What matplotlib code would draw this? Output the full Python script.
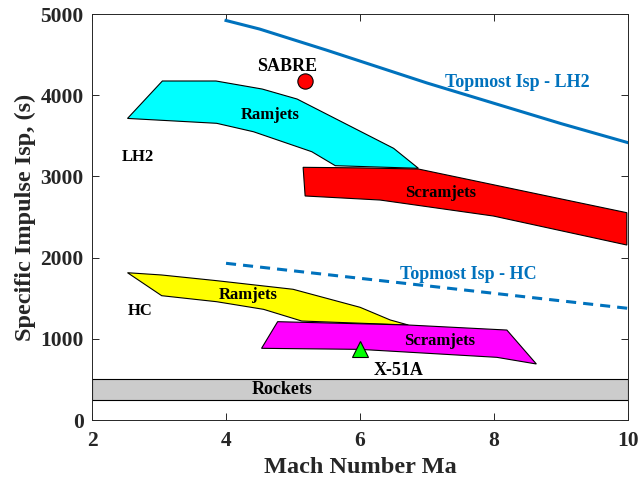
import numpy as np
import matplotlib
matplotlib.use("Agg")
import matplotlib.pyplot as plt

plt.rcParams['font.family'] = ['Liberation Serif', 'DejaVu Serif']
plt.rcParams['font.weight'] = 'bold'
plt.rcParams['axes.labelweight'] = 'bold'

# envelopes (Mach, Isp)
lh2_ram_mach = [2.53, 3.05, 3.85, 4.54, 5.06, 6.50, 6.87, 5.63, 5.28, 4.41, 3.86]
lh2_ram_isp = [3714, 4175, 4175, 4076, 3953, 3346, 3100, 3132, 3304, 3550, 3654]

lh2_scram_mach = [5.15, 6.0, 6.87, 9.98, 9.98, 7.99, 6.30, 5.18]
lh2_scram_isp = [3112, 3105, 3091, 2553, 2155, 2512, 2709, 2759]

hc_ram_mach = [2.53, 3.04, 3.86, 5.00, 6.00, 6.45, 6.72, 5.13, 4.56, 3.86, 3.04]
hc_ram_isp = [1814, 1786, 1716, 1610, 1388, 1232, 1170, 1219, 1363, 1457, 1531]

hc_scram_mach = [4.53, 4.77, 6.72, 8.19, 8.63, 8.04, 6.00]
hc_scram_isp = [883, 1211, 1170, 1108, 690, 772, 870]

rockets_isp = [250, 500]

# topmost Isp curves
top_lh2_mach = [4.0, 4.5, 5.0, 5.5, 6.0, 7.0, 8.0, 9.0, 10.0]
top_lh2_isp = [4920, 4815, 4685, 4555, 4420, 4150, 3900, 3650, 3415]
top_hc_mach = [4.0, 6.0, 8.0, 10.0]
top_hc_isp = [1930, 1745, 1560, 1375]

# single vehicles
sabre = (5.18, 4175)
x51a = (6.0, 870)

fig = plt.figure(figsize=(6.41, 4.83), dpi=100)
ax = fig.add_axes([0.1435, 0.1304, 0.8365, 0.8406])

ax.axhspan(rockets_isp[0], rockets_isp[1], facecolor='#cccccc', edgecolor='black', lw=0.8, zorder=1)
ax.fill(lh2_ram_mach, lh2_ram_isp, facecolor='cyan', edgecolor='black', lw=0.8, zorder=2)
ax.fill(lh2_scram_mach, lh2_scram_isp, facecolor='red', edgecolor='black', lw=0.8, zorder=3)
ax.fill(hc_ram_mach, hc_ram_isp, facecolor='yellow', edgecolor='black', lw=0.8, zorder=2)
ax.fill(hc_scram_mach, hc_scram_isp, facecolor='magenta', edgecolor='black', lw=0.8, zorder=3)

blue = '#0072BD'
ax.plot(top_lh2_mach, top_lh2_isp, color=blue, lw=2.2, zorder=4)
ax.plot(top_hc_mach, top_hc_isp, color=blue, lw=2.2, dashes=(3.3, 2.3), zorder=4)

ax.plot(*sabre, 'o', ms=11, mfc='red', mec='black', mew=0.8, zorder=5)
ax.plot(*x51a, '^', ms=12, mfc='#00ff00', mec='black', mew=0.8, zorder=5)

va = 'center_baseline'
ax.text(4.91, 4375, 'SABRE', ha='center', va=va, fontsize=13)
ax.text(8.34, 4175, 'Topmost Isp - LH2', ha='center', va=va, fontsize=13, color=blue)
ax.text(4.66, 3777, 'Ramjets', ha='center', va=va, fontsize=12, zorder=6)
ax.text(2.69, 3264, 'LH2', ha='center', va=va, fontsize=12)
ax.text(7.20, 2824, 'Scramjets', ha='center', va=va, fontsize=12, zorder=6)
ax.text(7.62, 1814, 'Topmost Isp - HC', ha='center', va=va, fontsize=13, color=blue)
ax.text(4.33, 1560, 'Ramjets', ha='center', va=va, fontsize=12, zorder=6)
ax.text(2.72, 1367, 'HC', ha='center', va=va, fontsize=12)
ax.text(7.19, 994, 'Scramjets', ha='center', va=va, fontsize=12, zorder=6)
ax.text(6.57, 637, 'X-51A', ha='center', va=va, fontsize=13)
ax.text(4.83, 402, 'Rockets', ha='center', va=va, fontsize=13, zorder=6)

ax.set_xlim(2, 10)
ax.set_ylim(0, 5000)
ax.set_xticks([2, 4, 6, 8, 10])
ax.set_yticks([0, 1000, 2000, 3000, 4000, 5000])
ax.tick_params(direction='in', top=True, right=True, labelsize=15.5, colors='#262626', labelcolor='#262626', length=5, width=0.7)
ax.tick_params(axis='x', pad=8)
ax.tick_params(axis='y', pad=6)
for s in ax.spines.values():
    s.set_color('#262626')
    s.set_linewidth(0.7)
ax.set_xlabel('Mach Number Ma', fontsize=17.5, color='#262626', labelpad=4)
ax.set_ylabel('Specific Impulse Isp, (s)', fontsize=17.5, color='#262626', labelpad=3)

fig.savefig('out.png', dpi=100)
